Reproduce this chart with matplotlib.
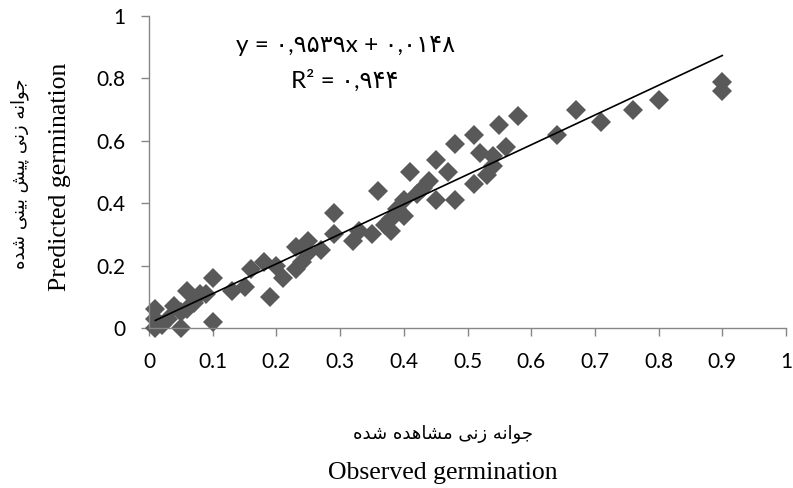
import numpy as np
import matplotlib
matplotlib.use("Agg")
import matplotlib.pyplot as plt

# observed vs predicted germination
observed = [0.01, 0.01, 0.01, 0.02, 0.03, 0.04, 0.05, 0.05, 0.06, 0.06,
            0.07, 0.08, 0.09, 0.10, 0.10, 0.13, 0.15, 0.16, 0.18, 0.19,
            0.20, 0.21, 0.23, 0.23, 0.24, 0.25, 0.25, 0.27, 0.29, 0.29,
            0.32, 0.33, 0.35, 0.36, 0.37, 0.38, 0.38, 0.39, 0.40, 0.40,
            0.41, 0.42, 0.43, 0.44, 0.45, 0.45, 0.47, 0.48, 0.48, 0.51,
            0.51, 0.52, 0.53, 0.54, 0.54, 0.55, 0.56, 0.58, 0.64, 0.67,
            0.71, 0.76, 0.80, 0.90, 0.90]
predicted = [0.06, 0.03, 0.00, 0.01, 0.03, 0.07, 0.00, 0.05, 0.12, 0.06,
             0.08, 0.11, 0.11, 0.16, 0.02, 0.12, 0.13, 0.19, 0.21, 0.10,
             0.20, 0.16, 0.26, 0.19, 0.21, 0.24, 0.28, 0.25, 0.30, 0.37,
             0.28, 0.31, 0.30, 0.44, 0.33, 0.31, 0.35, 0.38, 0.36, 0.41,
             0.50, 0.43, 0.45, 0.47, 0.41, 0.54, 0.50, 0.41, 0.59, 0.46,
             0.62, 0.56, 0.49, 0.52, 0.55, 0.65, 0.58, 0.68, 0.62, 0.70,
             0.66, 0.70, 0.73, 0.79, 0.76]

slope, intercept = 0.9539, 0.0148
eq_text = "y = ۰,۹۵۳۹x + ۰,۰۱۴۸"
r2_text = "R² = ۰,۹۴۴"

xticks = [0, 0.1, 0.2, 0.3, 0.4, 0.5, 0.6, 0.7, 0.8, 0.9, 1]
yticks = [0, 0.2, 0.4, 0.6, 0.8, 1]
xtick_labels = ["0", "0.1", "0.2", "0.3", "0.4", "0.5", "0.6", "0.7", "0.8", "0.9", "1"]
ytick_labels = ["0", "0.2", "0.4", "0.6", "0.8", "1"]

xlabel_fa = "جوانه زنی مشاهده شده"
ylabel_fa = "جوانه زنی پیش بینی شده"
xlabel_en = "Observed germination"
ylabel_en = "Predicted germination"

# matplotlib has no arabic shaping, so pick the joined forms by hand
FORMS = {
    "\u0627": ("\uFE8D", "\uFE8E", None, None),
    "\u0628": ("\uFE8F", "\uFE90", "\uFE91", "\uFE92"),
    "\u067E": ("\uFB56", "\uFB57", "\uFB58", "\uFB59"),
    "\u062C": ("\uFE9D", "\uFE9E", "\uFE9F", "\uFEA0"),
    "\u062F": ("\uFEA9", "\uFEAA", None, None),
    "\u0632": ("\uFEAF", "\uFEB0", None, None),
    "\u0634": ("\uFEB5", "\uFEB6", "\uFEB7", "\uFEB8"),
    "\u0645": ("\uFEE1", "\uFEE2", "\uFEE3", "\uFEE4"),
    "\u0646": ("\uFEE5", "\uFEE6", "\uFEE7", "\uFEE8"),
    "\u0647": ("\uFEE9", "\uFEEA", "\uFEEB", "\uFEEC"),
    "\u0648": ("\uFEED", "\uFEEE", None, None),
    "\u06CC": ("\uFBFC", "\uFBFD", "\uFBFE", "\uFBFF"),
}


def shape(text):
    out = []
    for i, c in enumerate(text):
        if c not in FORMS:
            out.append(c)
            continue
        f = FORMS[c]
        prev = text[i - 1] if i > 0 else ""
        nxt = text[i + 1] if i + 1 < len(text) else ""
        jp = prev in FORMS and FORMS[prev][2] is not None
        jn = nxt in FORMS and f[2] is not None
        if jp and jn:
            out.append(f[3])
        elif jp:
            out.append(f[1])
        elif jn:
            out.append(f[2])
        else:
            out.append(f[0])
    return "".join(reversed(out))


W, H = 793, 488
fig = plt.figure(figsize=(W / 100, H / 100), dpi=100)
ax = fig.add_axes([149 / W, 1 - 328 / H, (786 - 149) / W, (328 - 16) / H])

ax.plot(observed, predicted, linestyle="none", marker="D", markersize=9.8,
        color="#595959", markeredgewidth=0, clip_on=False, zorder=2)

xs = np.array([min(observed), max(observed)])
ax.plot(xs, slope * xs + intercept, color="black", lw=1.2, zorder=3)

ax.set_xlim(0, 1)
ax.set_ylim(0, 1)
ax.set_xticks(xticks)
ax.set_xticklabels(xtick_labels)
ax.set_yticks(yticks)
ax.set_yticklabels(ytick_labels)

gray = "#868686"
for s in ["top", "right"]:
    ax.spines[s].set_visible(False)
for s in ["left", "bottom"]:
    ax.spines[s].set_color(gray)
    ax.spines[s].set_linewidth(1.0)
ax.tick_params(direction="out", length=6, width=1.0, color=gray,
               labelsize=15, pad=11)
for lab in ax.get_xticklabels() + ax.get_yticklabels():
    lab.set_fontfamily("Lato")

ax.text(0.308, 0.905, eq_text, transform=ax.transAxes, ha="center", va="center",
        fontsize=17.5, family=["Lato", "DejaVu Sans"])
ax.text(0.308, 0.792, r2_text, transform=ax.transAxes, ha="center", va="center",
        fontsize=17.5, family=["Lato", "DejaVu Sans"])

fig.text(20 / W, 1 - 174 / H, shape(ylabel_fa), rotation=90, ha="center",
         va="center", fontsize=13, family="DejaVu Sans")
fig.text(60 / W, 1 - 177 / H, ylabel_en, rotation=90, ha="center",
         va="center", fontsize=18.5, family="Liberation Serif")
fig.text(443 / W, 1 - 434 / H, shape(xlabel_fa), ha="center", va="center",
         fontsize=13, family="DejaVu Sans")
fig.text(443 / W, 1 - 473 / H, xlabel_en, ha="center", va="center",
         fontsize=18.5, family="Liberation Serif")

fig.savefig("out.png", dpi=100)
